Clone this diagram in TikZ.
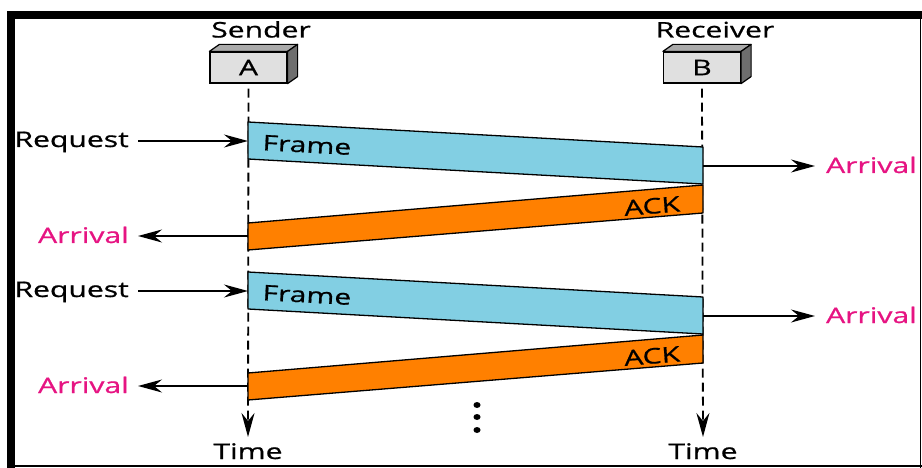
\documentclass[tikz,border=0pt]{standalone}
\usepackage{fontspec}
\setmainfont[FakeStretch=1.4,FakeBold=0.8]{Open Sans}
\usetikzlibrary{arrows.meta}
\definecolor{framecol}{RGB}{130,207,227}
\definecolor{ackcol}{RGB}{255,128,0}
\definecolor{pinkcol}{RGB}{230,20,130}
\definecolor{boxfront}{RGB}{224,224,224}
\definecolor{boxtop}{RGB}{170,170,170}
\definecolor{boxside}{RGB}{110,110,110}
\tikzset{
  lbl/.style={font=\fontsize{21.5}{25}\selectfont, inner sep=0pt},
  arr/.style={lbl, text=pinkcol},
  stationbox/.style={draw, fill=boxfront, minimum width=77pt, minimum height=31pt, inner sep=0pt, line width=1.2pt, font=\fontsize{21.5}{25}\selectfont},
  tip/.style={-{Stealth[length=24pt,width=13pt,inset=8pt]}},
  msgline/.style={line width=1.5pt, tip},
  pdu/.style={draw, line width=1.3pt, line join=round},
  life/.style={dashed, dash pattern=on 9pt off 5pt, line width=1.8pt},
}
\begin{document}
\begin{tikzpicture}[x=1pt,y=-1pt]
\useasboundingbox (0,0) rectangle (922,468);
% border
\fill[black] (7,11) rectangle (15,468);
\fill[black] (7,11) rectangle (922,19);
\draw[line width=1.5pt] (920.5,11) -- (920.5,468);
\draw[line width=2pt] (7,466) -- (922,466);

% stations
\node[stationbox] (A) at (248.5,67.5) {A};
\node[stationbox] (B) at (702,67.5) {B};
\foreach \n in {A,B}{
  \filldraw[fill=boxtop, line width=1.2pt, line join=round] (\n.north west) -- ++(10,-7) -- ([xshift=10pt,yshift=7pt]\n.north east) -- (\n.north east) -- cycle;
  \filldraw[fill=boxside, line width=1.2pt, line join=round] (\n.north east) -- ++(10,-7) -- ([xshift=10pt,yshift=7pt]\n.south east) -- (\n.south east) -- cycle;
}
\node[lbl, anchor=base] (snd) at (261,37.5) {Sender};
\node[lbl, anchor=base] (rcv) at (715,37.5) {Receiver};

% lifelines
\coordinate (tA) at (248,437);
\coordinate (tB) at (703,437);
\draw[life, tip] ([yshift=-5pt]A.south) -- (tA);
\draw[life, tip] ([yshift=-5pt]B.south) -- (tB);
\node[lbl, anchor=base] (timeA) at (248,459) {Time};
\node[lbl, anchor=base] (timeB) at (703,459) {Time};

% exchanges
\foreach \k/\dy in {1/0,2/150}{
  \coordinate (f\k a) at (248,122+\dy);
  \coordinate (f\k b) at (703,147+\dy);
  \coordinate (f\k c) at (703,184+\dy);
  \coordinate (f\k d) at (248,159+\dy);
  \coordinate (a\k a) at (703,185+\dy);
  \coordinate (a\k b) at (703,213+\dy);
  \coordinate (a\k c) at (248,250+\dy);
  \coordinate (a\k d) at (248,223+\dy);
  \filldraw[pdu, fill=framecol] (f\k a) -- (f\k b) -- (f\k c) -- (f\k d) -- cycle;
  \filldraw[pdu, fill=ackcol] (a\k a) -- (a\k b) -- (a\k c) -- (a\k d) -- cycle;
  \node[lbl, rotate=-3.1] (fl\k) at (307,145+\dy) {Frame};
  \node[lbl, rotate=4.7] (al\k) at (652,206+\dy) {ACK};
  \node[lbl, anchor=base east] (rq\k) at (129,147+\dy) {Request};
  \coordinate (rqe\k) at (248,141+\dy);
  \draw[msgline] ([xshift=9pt]rq\k.east |- rqe\k) -- (rqe\k);
  \node[arr, anchor=base east] (arR\k) at (917,173+\dy) {Arrival};
  \coordinate (rs\k) at (703,166+\dy);
  \coordinate (re\k) at (815,166+\dy);
  \draw[msgline] (rs\k) -- (re\k);
  \node[arr, anchor=base east] (arL\k) at (129,243+\dy) {Arrival};
  \coordinate (ls\k) at (248,236+\dy);
  \draw[msgline] (ls\k) -- ([xshift=9pt]arL\k.east |- ls\k);
}

% dots
\foreach \yy [count=\i] in {405,417,430}
  \fill (477,\yy) ellipse [x radius=3.5pt, y radius=3pt];
\end{tikzpicture}
\end{document}
